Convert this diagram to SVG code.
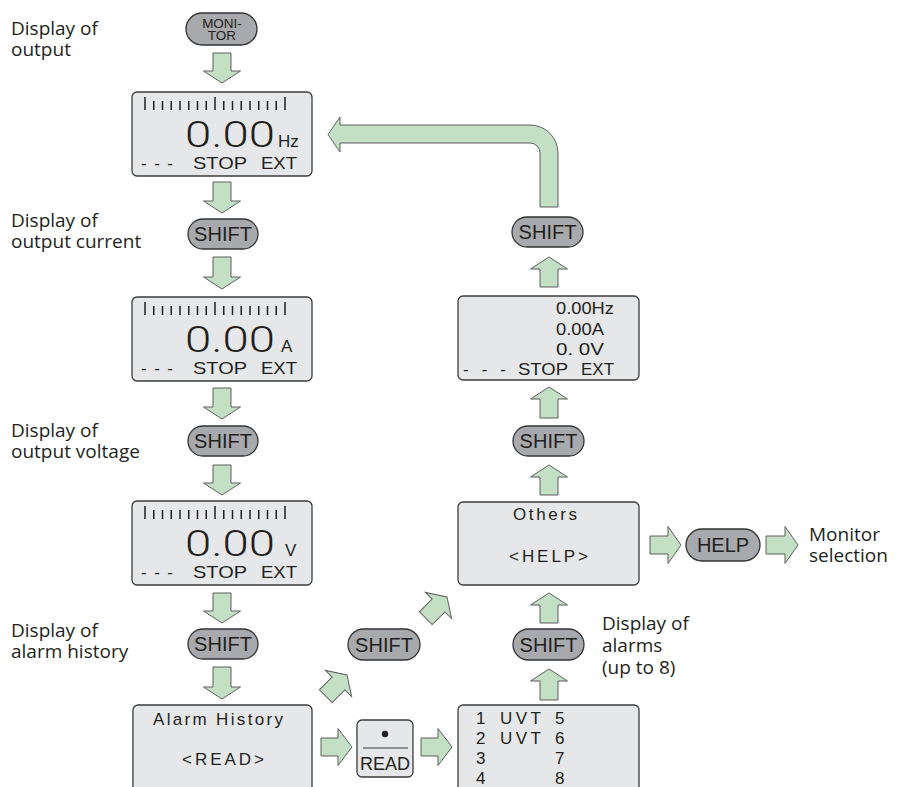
<svg xmlns="http://www.w3.org/2000/svg" width="899" height="787" viewBox="0 0 899 787">
<defs>
<style>
.lbl{font-family:"Open Sans","Noto Sans",sans-serif;font-size:19px;fill:#231f20}
.lcd{fill:#e6e7e8;stroke:#3c3c3c;stroke-width:1.3}
.pill{fill:#a7a9ac;stroke:#333;stroke-width:1.3}
.btn{font-family:"Liberation Sans",Arial,sans-serif;font-size:20px;fill:#231f20;text-anchor:middle}
.t{font-family:"Liberation Sans",Arial,sans-serif;font-size:17px;fill:#231f20}
.big{font-family:Roboto,"Liberation Sans",sans-serif;font-weight:300;font-size:37px;fill:#231f20}
.arr{fill:#c4e0c4;stroke:#5f5f5f;stroke-width:1}
.tick{stroke:#231f20;stroke-width:1.5}
</style>
<g id="ticks">
<line class="tick" x1="145" y1="5" x2="145" y2="18"/>
<line class="tick" x1="153.75" y1="9" x2="153.75" y2="18"/>
<line class="tick" x1="162.5" y1="9" x2="162.5" y2="18"/>
<line class="tick" x1="171.25" y1="9" x2="171.25" y2="18"/>
<line class="tick" x1="180" y1="9" x2="180" y2="18"/>
<line class="tick" x1="188.75" y1="9" x2="188.75" y2="18"/>
<line class="tick" x1="197.5" y1="9" x2="197.5" y2="18"/>
<line class="tick" x1="206.25" y1="9" x2="206.25" y2="18"/>
<line class="tick" x1="215" y1="5" x2="215" y2="18"/>
<line class="tick" x1="223.75" y1="9" x2="223.75" y2="18"/>
<line class="tick" x1="232.5" y1="9" x2="232.5" y2="18"/>
<line class="tick" x1="241.25" y1="9" x2="241.25" y2="18"/>
<line class="tick" x1="250" y1="9" x2="250" y2="18"/>
<line class="tick" x1="258.75" y1="9" x2="258.75" y2="18"/>
<line class="tick" x1="267.5" y1="9" x2="267.5" y2="18"/>
<line class="tick" x1="276.25" y1="9" x2="276.25" y2="18"/>
<line class="tick" x1="285" y1="5" x2="285" y2="18"/>
</g>
<path id="upArrow" d="M0,0 L18.5,12 L9,12 L9,30 L-9,30 L-9,12 L-18.5,12 Z"/>
</defs>

<!-- labels -->
<g id="labels">
<text class="lbl" x="11" y="35">Display of<tspan x="11" dy="21">output</tspan></text>
<text class="lbl" x="11" y="227">Display of<tspan x="11" dy="21">output current</tspan></text>
<text class="lbl" x="11" y="437">Display of<tspan x="11" dy="21">output voltage</tspan></text>
<text class="lbl" x="11" y="637">Display of<tspan x="11" dy="21">alarm history</tspan></text>
<text class="lbl" x="602" y="630">Display of<tspan x="602" dy="22">alarms</tspan><tspan x="602" dy="22">(up to 8)</tspan></text>
<text class="lbl" x="809" y="541">Monitor<tspan x="809" dy="21">selection</tspan></text>
</g>

<!-- connectors -->
<g id="connectors">
<polygon class="arr" points="213,53 231,53 231,71 240.5,71 222,83 203.5,71 213,71"/>
<polygon class="arr" points="213,182 231,182 231,201 240.5,201 222,213 203.5,201 213,201"/>
<polygon class="arr" points="213,257 231,257 231,277 240.5,277 222,289 203.5,277 213,277"/>
<polygon class="arr" points="213,388 231,388 231,407 240.5,407 222,419 203.5,407 213,407"/>
<polygon class="arr" points="213,465 231,465 231,483 240.5,483 222,495 203.5,483 213,483"/>
<polygon class="arr" points="213,593 231,593 231,611 240.5,611 222,623 203.5,611 213,611"/>
<polygon class="arr" points="213,667 231,667 231,687 240.5,687 222,699 203.5,687 213,687"/>

<path class="arr" d="M328,134.5 L340,117 L340,125 L530,125 A28,28 0 0 1 558,153 L558,207 L540,207 L540,153 A10,10 0 0 0 530,143 L340,143 L340,152 Z"/>

<polygon class="arr" points="549,257 567.5,269 558,269 558,287 540,287 540,269 530.5,269"/>
<polygon class="arr" points="549,387 567.5,399 558,399 558,418 540,418 540,399 530.5,399"/>
<polygon class="arr" points="549,465 567.5,477 558,477 558,495 540,495 540,477 530.5,477"/>
<polygon class="arr" points="549,593 567.5,605 558,605 558,623 540,623 540,605 530.5,605"/>
<polygon class="arr" points="549,669 567.5,681 558,681 558,700 540,700 540,681 530.5,681"/>

<polygon class="arr" points="650,536 668,536 668,526.5 681,545 668,563.5 668,554 650,554"/>
<polygon class="arr" points="766,536 785,536 785,526.5 798,545 785,563.5 785,554 766,554"/>
<polygon class="arr" points="321,738 338,738 338,728.5 352,747 338,765.5 338,756 321,756"/>
<polygon class="arr" points="421,738 438,738 438,728.5 452,747 438,765.5 438,756 421,756"/>

<use href="#upArrow" class="arr" transform="translate(347,675) rotate(45)"/>
<use href="#upArrow" class="arr" transform="translate(447,597) rotate(45)"/>
</g>

<!-- buttons -->
<g id="btn-monitor">
<rect class="pill" x="186" y="13" width="71" height="32" rx="16"/>
<text class="btn" x="222" y="28" style="font-size:13.5px">MONI-<tspan x="222" dy="12">TOR</tspan></text>
</g>
<g id="btn-shift1"><rect class="pill" x="188" y="219" width="70" height="30" rx="15"/><text class="btn" x="223" y="241">SHIFT</text></g>
<g id="btn-shift2"><rect class="pill" x="188" y="426" width="70" height="30" rx="15"/><text class="btn" x="223" y="448">SHIFT</text></g>
<g id="btn-shift3"><rect class="pill" x="188" y="629" width="70" height="30" rx="15"/><text class="btn" x="223" y="651">SHIFT</text></g>
<g id="btn-shift-mid"><rect class="pill" x="348" y="629" width="72" height="31" rx="15.5"/><text class="btn" x="384" y="652">SHIFT</text></g>
<g id="btn-shift-r1"><rect class="pill" x="512" y="217" width="71" height="30" rx="15"/><text class="btn" x="547.5" y="239">SHIFT</text></g>
<g id="btn-shift-r2"><rect class="pill" x="513" y="426" width="71" height="30" rx="15"/><text class="btn" x="548.5" y="448">SHIFT</text></g>
<g id="btn-shift-r3"><rect class="pill" x="513" y="629" width="71" height="31" rx="15.5"/><text class="btn" x="548.5" y="652">SHIFT</text></g>
<g id="btn-help"><rect class="pill" x="686" y="529" width="74" height="32" rx="16"/><text class="btn" x="723" y="552">HELP</text></g>
<g id="btn-read">
<rect class="lcd" x="357" y="720" width="56" height="57" rx="5"/>
<circle cx="385" cy="734" r="3.2" fill="#231f20"/>
<line x1="363" y1="748" x2="408" y2="748" stroke="#3c3c3c" stroke-width="1.2"/>
<text class="t" x="385" y="770" text-anchor="middle" style="font-size:18px">READ</text>
</g>

<!-- LCD displays -->
<g id="lcd-hz" transform="translate(0,92)">
<rect class="lcd" x="132" y="0" width="180" height="84" rx="5"/>
<use href="#ticks"/>
<text class="big" x="185" y="55" textLength="90" lengthAdjust="spacingAndGlyphs">0.00</text>
<text class="t" x="278" y="55">Hz</text>
<text class="t" x="141" y="77" textLength="32" lengthAdjust="spacing">- - -</text>
<text class="t" x="193" y="77" textLength="54" lengthAdjust="spacingAndGlyphs">STOP</text>
<text class="t" x="261" y="77" textLength="36" lengthAdjust="spacingAndGlyphs">EXT</text>
</g>
<g id="lcd-a" transform="translate(0,297)">
<rect class="lcd" x="132" y="0" width="180" height="84" rx="5"/>
<use href="#ticks"/>
<text class="big" x="185" y="55" textLength="90" lengthAdjust="spacingAndGlyphs">0.00</text>
<text class="t" x="281" y="55">A</text>
<text class="t" x="141" y="77" textLength="32" lengthAdjust="spacing">- - -</text>
<text class="t" x="193" y="77" textLength="54" lengthAdjust="spacingAndGlyphs">STOP</text>
<text class="t" x="261" y="77" textLength="36" lengthAdjust="spacingAndGlyphs">EXT</text>
</g>
<g id="lcd-v" transform="translate(0,501)">
<rect class="lcd" x="132" y="0" width="180" height="84" rx="5"/>
<use href="#ticks"/>
<text class="big" x="185" y="55" textLength="90" lengthAdjust="spacingAndGlyphs">0.00</text>
<text class="t" x="285" y="55">V</text>
<text class="t" x="141" y="77" textLength="32" lengthAdjust="spacing">- - -</text>
<text class="t" x="193" y="77" textLength="54" lengthAdjust="spacingAndGlyphs">STOP</text>
<text class="t" x="261" y="77" textLength="36" lengthAdjust="spacingAndGlyphs">EXT</text>
</g>
<g id="lcd-alarm-history">
<rect class="lcd" x="133" y="705" width="179" height="100" rx="5"/>
<text class="t" x="153" y="725" textLength="130" lengthAdjust="spacing">Alarm History</text>
<text class="t" x="182" y="765" textLength="82" lengthAdjust="spacing">&lt;READ&gt;</text>
</g>
<g id="lcd-summary">
<rect class="lcd" x="458" y="296" width="181" height="84" rx="5"/>
<text class="t" x="556" y="314" textLength="58" lengthAdjust="spacingAndGlyphs">0.00Hz</text>
<text class="t" x="556" y="335" textLength="48" lengthAdjust="spacingAndGlyphs">0.00A</text>
<text class="t" x="556" y="355" textLength="48" lengthAdjust="spacingAndGlyphs">0. 0V</text>
<text class="t" x="463" y="375" textLength="43" lengthAdjust="spacing">- - -</text>
<text class="t" x="518" y="375" textLength="50" lengthAdjust="spacingAndGlyphs">STOP</text>
<text class="t" x="581" y="375" textLength="33" lengthAdjust="spacingAndGlyphs">EXT</text>
</g>
<g id="lcd-others">
<rect class="lcd" x="458" y="502" width="181" height="83" rx="5"/>
<text class="t" x="513" y="520" textLength="64" lengthAdjust="spacing">Others</text>
<text class="t" x="509" y="562" textLength="79" lengthAdjust="spacing">&lt;HELP&gt;</text>
</g>
<g id="lcd-alarms">
<rect class="lcd" x="458" y="705" width="181" height="100" rx="5"/>
<text class="t" x="476" y="724">1</text>
<text class="t" x="500" y="724" textLength="41" lengthAdjust="spacing">UVT</text>
<text class="t" x="555" y="724">5</text>
<text class="t" x="476" y="744">2</text>
<text class="t" x="500" y="744" textLength="41" lengthAdjust="spacing">UVT</text>
<text class="t" x="555" y="744">6</text>
<text class="t" x="476" y="764">3</text>
<text class="t" x="555" y="764">7</text>
<text class="t" x="476" y="784">4</text>
<text class="t" x="555" y="784">8</text>
</g>
</svg>
